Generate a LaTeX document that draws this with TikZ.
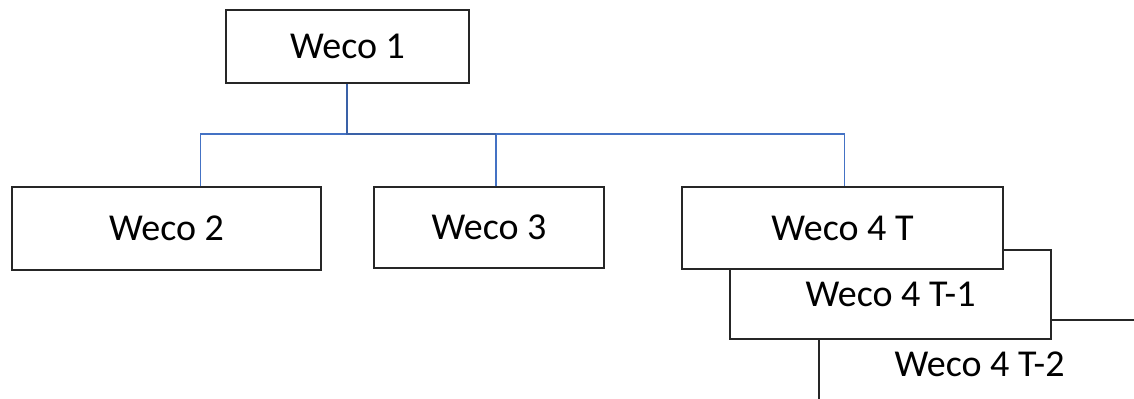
\documentclass[tikz,border=0pt]{standalone}
\usepackage{fontspec}
\setmainfont{Carlito}
\usetikzlibrary{positioning}
\definecolor{linkblue}{HTML}{4472C4}
\definecolor{boxgray}{HTML}{262626}

\begin{document}
\begin{tikzpicture}[x=0.5pt,y=-0.5pt,
  box/.style={draw=boxgray,line width=0.75pt,fill=white,inner sep=0pt,
    font=\fontsize{19}{23}\selectfont},
  link/.style={draw=linkblue,line width=0.6pt}]
\clip (0,0) rectangle (1134,398);
\fill[white] (0,0) rectangle (1134,398);

% Top box
\node[box,minimum width=121.5pt,minimum height=36.5pt] (w1) at (347.5,46.5) {Weco 1};

% Second row
\node[box,minimum width=154.5pt,minimum height=41.5pt] (w2) at (166.5,228.5) {Weco 2};
\node[box,minimum width=115pt,minimum height=40.5pt] (w3) at (489,227.5) {Weco 3};

% Stacked boxes, back to front
\node[box,minimum width=160.5pt,minimum height=44.5pt] (w4b) at (979.5,364.5) {Weco 4 T-2};
\node[box,minimum width=160.5pt,minimum height=44.5pt] (w4a) at (890.5,294.5) {Weco 4 T-1};
\node[box,minimum width=160.5pt,minimum height=41pt] (w4) at (842.5,228) {Weco 4 T};

% Connectors
\coordinate (bar) at (346.5,134);
\draw[link] ([xshift=17pt]w2.north) |- ([xshift=1pt]w4.north |- bar) -- ([xshift=1pt]w4.north);
\draw[link] ([xshift=3.5pt]w3.north) -- ([xshift=3.5pt]w3.north |- bar);
\draw[link,draw=linkblue!85!black,line width=1pt] ([xshift=-0.5pt]w1.south) -- (bar) -- ([xshift=3.5pt]w3.north |- bar);
\end{tikzpicture}
\end{document}
